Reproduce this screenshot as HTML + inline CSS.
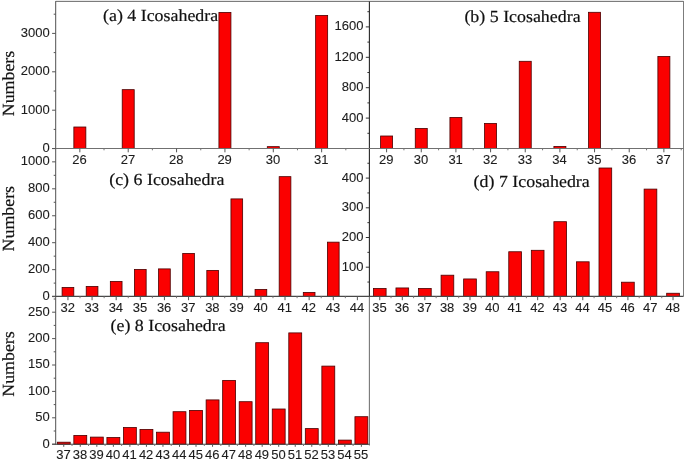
<!DOCTYPE html>
<html><head><meta charset="utf-8"><title>Icosahedra histograms</title>
<style>
html,body{margin:0;padding:0;background:#fff;}
svg{display:block}
.s{font-family:"Liberation Sans",Arial,sans-serif;fill:#1c1c1c;stroke:#1c1c1c;stroke-width:0.1px;}
.t{font-family:"Liberation Serif","Times New Roman",serif;fill:#111;stroke:#111;stroke-width:0.2px;text-rendering:geometricPrecision;}
</style></head><body>
<svg width="685" height="461" viewBox="0 0 685 461">
<rect width="685" height="461" fill="#fff"/>
<rect x="73.85" y="127.00" width="12.00" height="21.50" fill="#fb0000" stroke="#4a0000" stroke-width="0.8"/>
<rect x="122.21" y="89.65" width="12.00" height="58.85" fill="#fb0000" stroke="#4a0000" stroke-width="0.8"/>
<rect x="218.93" y="12.40" width="12.00" height="136.10" fill="#fb0000" stroke="#4a0000" stroke-width="0.8"/>
<rect x="267.29" y="146.65" width="12.00" height="1.85" fill="#fb0000" stroke="#4a0000" stroke-width="0.8"/>
<rect x="315.65" y="15.40" width="12.00" height="133.10" fill="#fb0000" stroke="#4a0000" stroke-width="0.8"/>
<rect x="380.60" y="136.00" width="12.00" height="12.50" fill="#fb0000" stroke="#4a0000" stroke-width="0.8"/>
<rect x="415.26" y="128.40" width="12.00" height="20.10" fill="#fb0000" stroke="#4a0000" stroke-width="0.8"/>
<rect x="449.92" y="117.40" width="12.00" height="31.10" fill="#fb0000" stroke="#4a0000" stroke-width="0.8"/>
<rect x="484.58" y="123.40" width="12.00" height="25.10" fill="#fb0000" stroke="#4a0000" stroke-width="0.8"/>
<rect x="519.24" y="61.30" width="12.00" height="87.20" fill="#fb0000" stroke="#4a0000" stroke-width="0.8"/>
<rect x="553.90" y="146.40" width="12.00" height="2.10" fill="#fb0000" stroke="#4a0000" stroke-width="0.8"/>
<rect x="588.56" y="12.30" width="12.00" height="136.20" fill="#fb0000" stroke="#4a0000" stroke-width="0.8"/>
<rect x="657.88" y="56.40" width="12.00" height="92.10" fill="#fb0000" stroke="#4a0000" stroke-width="0.8"/>
<rect x="62.10" y="287.40" width="11.70" height="9.00" fill="#fb0000" stroke="#4a0000" stroke-width="0.8"/>
<rect x="86.22" y="286.40" width="11.70" height="10.00" fill="#fb0000" stroke="#4a0000" stroke-width="0.8"/>
<rect x="110.34" y="281.40" width="11.70" height="15.00" fill="#fb0000" stroke="#4a0000" stroke-width="0.8"/>
<rect x="134.46" y="269.40" width="11.70" height="27.00" fill="#fb0000" stroke="#4a0000" stroke-width="0.8"/>
<rect x="158.58" y="268.90" width="11.70" height="27.50" fill="#fb0000" stroke="#4a0000" stroke-width="0.8"/>
<rect x="182.70" y="253.40" width="11.70" height="43.00" fill="#fb0000" stroke="#4a0000" stroke-width="0.8"/>
<rect x="206.82" y="270.40" width="11.70" height="26.00" fill="#fb0000" stroke="#4a0000" stroke-width="0.8"/>
<rect x="230.94" y="198.90" width="11.70" height="97.50" fill="#fb0000" stroke="#4a0000" stroke-width="0.8"/>
<rect x="255.06" y="289.40" width="11.70" height="7.00" fill="#fb0000" stroke="#4a0000" stroke-width="0.8"/>
<rect x="279.18" y="176.65" width="11.70" height="119.75" fill="#fb0000" stroke="#4a0000" stroke-width="0.8"/>
<rect x="303.30" y="292.40" width="11.70" height="4.00" fill="#fb0000" stroke="#4a0000" stroke-width="0.8"/>
<rect x="327.42" y="242.15" width="11.70" height="54.25" fill="#fb0000" stroke="#4a0000" stroke-width="0.8"/>
<rect x="373.40" y="288.45" width="12.70" height="7.95" fill="#fb0000" stroke="#4a0000" stroke-width="0.8"/>
<rect x="395.96" y="287.95" width="12.70" height="8.45" fill="#fb0000" stroke="#4a0000" stroke-width="0.8"/>
<rect x="418.52" y="288.45" width="12.70" height="7.95" fill="#fb0000" stroke="#4a0000" stroke-width="0.8"/>
<rect x="441.08" y="275.20" width="12.70" height="21.20" fill="#fb0000" stroke="#4a0000" stroke-width="0.8"/>
<rect x="463.64" y="278.95" width="12.70" height="17.45" fill="#fb0000" stroke="#4a0000" stroke-width="0.8"/>
<rect x="486.20" y="271.75" width="12.70" height="24.65" fill="#fb0000" stroke="#4a0000" stroke-width="0.8"/>
<rect x="508.76" y="251.75" width="12.70" height="44.65" fill="#fb0000" stroke="#4a0000" stroke-width="0.8"/>
<rect x="531.32" y="250.30" width="12.70" height="46.10" fill="#fb0000" stroke="#4a0000" stroke-width="0.8"/>
<rect x="553.88" y="221.70" width="12.70" height="74.70" fill="#fb0000" stroke="#4a0000" stroke-width="0.8"/>
<rect x="576.44" y="261.80" width="12.70" height="34.60" fill="#fb0000" stroke="#4a0000" stroke-width="0.8"/>
<rect x="599.00" y="168.00" width="12.70" height="128.40" fill="#fb0000" stroke="#4a0000" stroke-width="0.8"/>
<rect x="621.56" y="282.20" width="12.70" height="14.20" fill="#fb0000" stroke="#4a0000" stroke-width="0.8"/>
<rect x="644.12" y="189.10" width="12.70" height="107.30" fill="#fb0000" stroke="#4a0000" stroke-width="0.8"/>
<rect x="666.68" y="293.25" width="12.70" height="3.15" fill="#fb0000" stroke="#4a0000" stroke-width="0.8"/>
<rect x="57.30" y="442.20" width="12.90" height="2.00" fill="#fb0000" stroke="#4a0000" stroke-width="0.8"/>
<rect x="73.84" y="435.40" width="12.90" height="8.80" fill="#fb0000" stroke="#4a0000" stroke-width="0.8"/>
<rect x="90.37" y="437.10" width="12.90" height="7.10" fill="#fb0000" stroke="#4a0000" stroke-width="0.8"/>
<rect x="106.91" y="437.50" width="12.90" height="6.70" fill="#fb0000" stroke="#4a0000" stroke-width="0.8"/>
<rect x="123.44" y="427.50" width="12.90" height="16.70" fill="#fb0000" stroke="#4a0000" stroke-width="0.8"/>
<rect x="139.98" y="429.40" width="12.90" height="14.80" fill="#fb0000" stroke="#4a0000" stroke-width="0.8"/>
<rect x="156.51" y="432.20" width="12.90" height="12.00" fill="#fb0000" stroke="#4a0000" stroke-width="0.8"/>
<rect x="173.05" y="411.70" width="12.90" height="32.50" fill="#fb0000" stroke="#4a0000" stroke-width="0.8"/>
<rect x="189.58" y="410.40" width="12.90" height="33.80" fill="#fb0000" stroke="#4a0000" stroke-width="0.8"/>
<rect x="206.12" y="399.90" width="12.90" height="44.30" fill="#fb0000" stroke="#4a0000" stroke-width="0.8"/>
<rect x="222.65" y="380.40" width="12.90" height="63.80" fill="#fb0000" stroke="#4a0000" stroke-width="0.8"/>
<rect x="239.19" y="401.70" width="12.90" height="42.50" fill="#fb0000" stroke="#4a0000" stroke-width="0.8"/>
<rect x="255.72" y="342.70" width="12.90" height="101.50" fill="#fb0000" stroke="#4a0000" stroke-width="0.8"/>
<rect x="272.25" y="409.00" width="12.90" height="35.20" fill="#fb0000" stroke="#4a0000" stroke-width="0.8"/>
<rect x="288.79" y="332.90" width="12.90" height="111.30" fill="#fb0000" stroke="#4a0000" stroke-width="0.8"/>
<rect x="305.32" y="428.60" width="12.90" height="15.60" fill="#fb0000" stroke="#4a0000" stroke-width="0.8"/>
<rect x="321.86" y="366.10" width="12.90" height="78.10" fill="#fb0000" stroke="#4a0000" stroke-width="0.8"/>
<rect x="338.39" y="440.10" width="12.90" height="4.10" fill="#fb0000" stroke="#4a0000" stroke-width="0.8"/>
<rect x="354.93" y="416.70" width="12.90" height="27.50" fill="#fb0000" stroke="#4a0000" stroke-width="0.8"/>
<rect x="55.70" y="0" width="627.80" height="1" fill="#e8e8e8"/>
<line x1="55.20" y1="1.50" x2="684.00" y2="1.50" stroke="#7c7c7c" stroke-width="1.1"/>
<line x1="683.50" y1="1.50" x2="683.50" y2="296.40" stroke="#7c7c7c" stroke-width="1.0"/>
<line x1="55.70" y1="1.50" x2="55.70" y2="444.70" stroke="#505050" stroke-width="1.0"/>
<line x1="369.40" y1="296.40" x2="369.40" y2="445.40" stroke="#767676" stroke-width="1.1"/>
<line x1="369.40" y1="1.50" x2="369.40" y2="296.90" stroke="#262626" stroke-width="1.1"/>
<line x1="52.10" y1="148.50" x2="683.50" y2="148.50" stroke="#707070" stroke-width="1.1"/>
<line x1="52.10" y1="296.40" x2="683.50" y2="296.40" stroke="#484848" stroke-width="1.1"/>
<line x1="52.10" y1="444.20" x2="369.40" y2="444.20" stroke="#404040" stroke-width="1.1"/>
<line x1="52.10" y1="148.60" x2="55.70" y2="148.60" stroke="#555" stroke-width="1.0"/>
<line x1="52.10" y1="110.20" x2="55.70" y2="110.20" stroke="#555" stroke-width="1.0"/>
<line x1="52.10" y1="71.80" x2="55.70" y2="71.80" stroke="#555" stroke-width="1.0"/>
<line x1="52.10" y1="33.40" x2="55.70" y2="33.40" stroke="#555" stroke-width="1.0"/>
<line x1="53.70" y1="129.40" x2="55.70" y2="129.40" stroke="#555" stroke-width="1.0"/>
<line x1="53.70" y1="91.00" x2="55.70" y2="91.00" stroke="#555" stroke-width="1.0"/>
<line x1="53.70" y1="52.60" x2="55.70" y2="52.60" stroke="#555" stroke-width="1.0"/>
<line x1="53.70" y1="14.20" x2="55.70" y2="14.20" stroke="#555" stroke-width="1.0"/>
<text class="s" x="49.70" y="152.00" text-anchor="end" font-size="13">0</text>
<text class="s" x="49.70" y="113.60" text-anchor="end" font-size="13">1000</text>
<text class="s" x="49.70" y="75.20" text-anchor="end" font-size="13">2000</text>
<text class="s" x="49.70" y="36.80" text-anchor="end" font-size="13">3000</text>
<line x1="365.80" y1="118.10" x2="369.40" y2="118.10" stroke="#333" stroke-width="1.0"/>
<line x1="365.80" y1="87.70" x2="369.40" y2="87.70" stroke="#333" stroke-width="1.0"/>
<line x1="365.80" y1="57.30" x2="369.40" y2="57.30" stroke="#333" stroke-width="1.0"/>
<line x1="365.80" y1="26.90" x2="369.40" y2="26.90" stroke="#333" stroke-width="1.0"/>
<line x1="367.40" y1="133.30" x2="369.40" y2="133.30" stroke="#333" stroke-width="1.0"/>
<line x1="367.40" y1="102.90" x2="369.40" y2="102.90" stroke="#333" stroke-width="1.0"/>
<line x1="367.40" y1="72.50" x2="369.40" y2="72.50" stroke="#333" stroke-width="1.0"/>
<line x1="367.40" y1="42.10" x2="369.40" y2="42.10" stroke="#333" stroke-width="1.0"/>
<line x1="367.40" y1="11.70" x2="369.40" y2="11.70" stroke="#333" stroke-width="1.0"/>
<text class="s" x="363.40" y="121.50" text-anchor="end" font-size="13">400</text>
<text class="s" x="363.40" y="91.10" text-anchor="end" font-size="13">800</text>
<text class="s" x="363.40" y="60.70" text-anchor="end" font-size="13">1200</text>
<text class="s" x="363.40" y="30.30" text-anchor="end" font-size="13">1600</text>
<line x1="52.10" y1="296.60" x2="55.70" y2="296.60" stroke="#555" stroke-width="1.0"/>
<line x1="52.10" y1="269.65" x2="55.70" y2="269.65" stroke="#555" stroke-width="1.0"/>
<line x1="52.10" y1="242.70" x2="55.70" y2="242.70" stroke="#555" stroke-width="1.0"/>
<line x1="52.10" y1="215.75" x2="55.70" y2="215.75" stroke="#555" stroke-width="1.0"/>
<line x1="52.10" y1="188.80" x2="55.70" y2="188.80" stroke="#555" stroke-width="1.0"/>
<line x1="52.10" y1="161.85" x2="55.70" y2="161.85" stroke="#555" stroke-width="1.0"/>
<line x1="53.70" y1="283.12" x2="55.70" y2="283.12" stroke="#555" stroke-width="1.0"/>
<line x1="53.70" y1="256.17" x2="55.70" y2="256.17" stroke="#555" stroke-width="1.0"/>
<line x1="53.70" y1="229.22" x2="55.70" y2="229.22" stroke="#555" stroke-width="1.0"/>
<line x1="53.70" y1="202.27" x2="55.70" y2="202.27" stroke="#555" stroke-width="1.0"/>
<line x1="53.70" y1="175.32" x2="55.70" y2="175.32" stroke="#555" stroke-width="1.0"/>
<text class="s" x="49.70" y="300.00" text-anchor="end" font-size="13">0</text>
<text class="s" x="49.70" y="273.05" text-anchor="end" font-size="13">200</text>
<text class="s" x="49.70" y="246.10" text-anchor="end" font-size="13">400</text>
<text class="s" x="49.70" y="219.15" text-anchor="end" font-size="13">600</text>
<text class="s" x="49.70" y="192.20" text-anchor="end" font-size="13">800</text>
<text class="s" x="49.70" y="165.25" text-anchor="end" font-size="13">1000</text>
<line x1="365.80" y1="267.20" x2="369.40" y2="267.20" stroke="#333" stroke-width="1.0"/>
<line x1="365.80" y1="237.50" x2="369.40" y2="237.50" stroke="#333" stroke-width="1.0"/>
<line x1="365.80" y1="207.80" x2="369.40" y2="207.80" stroke="#333" stroke-width="1.0"/>
<line x1="365.80" y1="178.10" x2="369.40" y2="178.10" stroke="#333" stroke-width="1.0"/>
<line x1="367.40" y1="282.05" x2="369.40" y2="282.05" stroke="#333" stroke-width="1.0"/>
<line x1="367.40" y1="252.35" x2="369.40" y2="252.35" stroke="#333" stroke-width="1.0"/>
<line x1="367.40" y1="222.65" x2="369.40" y2="222.65" stroke="#333" stroke-width="1.0"/>
<line x1="367.40" y1="192.95" x2="369.40" y2="192.95" stroke="#333" stroke-width="1.0"/>
<line x1="367.40" y1="163.25" x2="369.40" y2="163.25" stroke="#333" stroke-width="1.0"/>
<text class="s" x="363.40" y="270.60" text-anchor="end" font-size="13">100</text>
<text class="s" x="363.40" y="240.90" text-anchor="end" font-size="13">200</text>
<text class="s" x="363.40" y="211.20" text-anchor="end" font-size="13">300</text>
<text class="s" x="363.40" y="181.50" text-anchor="end" font-size="13">400</text>
<line x1="52.10" y1="444.20" x2="55.70" y2="444.20" stroke="#555" stroke-width="1.0"/>
<line x1="52.10" y1="417.80" x2="55.70" y2="417.80" stroke="#555" stroke-width="1.0"/>
<line x1="52.10" y1="391.40" x2="55.70" y2="391.40" stroke="#555" stroke-width="1.0"/>
<line x1="52.10" y1="365.00" x2="55.70" y2="365.00" stroke="#555" stroke-width="1.0"/>
<line x1="52.10" y1="338.60" x2="55.70" y2="338.60" stroke="#555" stroke-width="1.0"/>
<line x1="52.10" y1="312.20" x2="55.70" y2="312.20" stroke="#555" stroke-width="1.0"/>
<line x1="53.70" y1="431.00" x2="55.70" y2="431.00" stroke="#555" stroke-width="1.0"/>
<line x1="53.70" y1="404.60" x2="55.70" y2="404.60" stroke="#555" stroke-width="1.0"/>
<line x1="53.70" y1="378.20" x2="55.70" y2="378.20" stroke="#555" stroke-width="1.0"/>
<line x1="53.70" y1="351.80" x2="55.70" y2="351.80" stroke="#555" stroke-width="1.0"/>
<line x1="53.70" y1="325.40" x2="55.70" y2="325.40" stroke="#555" stroke-width="1.0"/>
<line x1="53.70" y1="299.00" x2="55.70" y2="299.00" stroke="#555" stroke-width="1.0"/>
<text class="s" x="49.70" y="447.60" text-anchor="end" font-size="13">0</text>
<text class="s" x="49.70" y="421.20" text-anchor="end" font-size="13">50</text>
<text class="s" x="49.70" y="394.80" text-anchor="end" font-size="13">100</text>
<text class="s" x="49.70" y="368.40" text-anchor="end" font-size="13">150</text>
<text class="s" x="49.70" y="342.00" text-anchor="end" font-size="13">200</text>
<text class="s" x="49.70" y="315.60" text-anchor="end" font-size="13">250</text>
<line x1="79.85" y1="148.50" x2="79.85" y2="152.30" stroke="#555" stroke-width="1"/>
<text class="s" x="79.55" y="164.00" text-anchor="middle" font-size="13">26</text>
<line x1="104.03" y1="148.50" x2="104.03" y2="150.30" stroke="#777" stroke-width="1"/>
<line x1="128.21" y1="148.50" x2="128.21" y2="152.30" stroke="#555" stroke-width="1"/>
<text class="s" x="127.91" y="164.00" text-anchor="middle" font-size="13">27</text>
<line x1="152.39" y1="148.50" x2="152.39" y2="150.30" stroke="#777" stroke-width="1"/>
<line x1="176.57" y1="148.50" x2="176.57" y2="152.30" stroke="#555" stroke-width="1"/>
<text class="s" x="176.27" y="164.00" text-anchor="middle" font-size="13">28</text>
<line x1="200.75" y1="148.50" x2="200.75" y2="150.30" stroke="#777" stroke-width="1"/>
<line x1="224.93" y1="148.50" x2="224.93" y2="152.30" stroke="#555" stroke-width="1"/>
<text class="s" x="224.63" y="164.00" text-anchor="middle" font-size="13">29</text>
<line x1="249.11" y1="148.50" x2="249.11" y2="150.30" stroke="#777" stroke-width="1"/>
<line x1="273.29" y1="148.50" x2="273.29" y2="152.30" stroke="#555" stroke-width="1"/>
<text class="s" x="272.99" y="164.00" text-anchor="middle" font-size="13">30</text>
<line x1="297.47" y1="148.50" x2="297.47" y2="150.30" stroke="#777" stroke-width="1"/>
<line x1="321.65" y1="148.50" x2="321.65" y2="152.30" stroke="#555" stroke-width="1"/>
<text class="s" x="321.35" y="164.00" text-anchor="middle" font-size="13">31</text>
<line x1="345.83" y1="148.50" x2="345.83" y2="150.30" stroke="#777" stroke-width="1"/>
<line x1="386.60" y1="148.50" x2="386.60" y2="152.30" stroke="#555" stroke-width="1"/>
<text class="s" x="386.30" y="164.00" text-anchor="middle" font-size="13">29</text>
<line x1="403.93" y1="148.50" x2="403.93" y2="150.30" stroke="#777" stroke-width="1"/>
<line x1="421.26" y1="148.50" x2="421.26" y2="152.30" stroke="#555" stroke-width="1"/>
<text class="s" x="420.96" y="164.00" text-anchor="middle" font-size="13">30</text>
<line x1="438.59" y1="148.50" x2="438.59" y2="150.30" stroke="#777" stroke-width="1"/>
<line x1="455.92" y1="148.50" x2="455.92" y2="152.30" stroke="#555" stroke-width="1"/>
<text class="s" x="455.62" y="164.00" text-anchor="middle" font-size="13">31</text>
<line x1="473.25" y1="148.50" x2="473.25" y2="150.30" stroke="#777" stroke-width="1"/>
<line x1="490.58" y1="148.50" x2="490.58" y2="152.30" stroke="#555" stroke-width="1"/>
<text class="s" x="490.28" y="164.00" text-anchor="middle" font-size="13">32</text>
<line x1="507.91" y1="148.50" x2="507.91" y2="150.30" stroke="#777" stroke-width="1"/>
<line x1="525.24" y1="148.50" x2="525.24" y2="152.30" stroke="#555" stroke-width="1"/>
<text class="s" x="524.94" y="164.00" text-anchor="middle" font-size="13">33</text>
<line x1="542.57" y1="148.50" x2="542.57" y2="150.30" stroke="#777" stroke-width="1"/>
<line x1="559.90" y1="148.50" x2="559.90" y2="152.30" stroke="#555" stroke-width="1"/>
<text class="s" x="559.60" y="164.00" text-anchor="middle" font-size="13">34</text>
<line x1="577.23" y1="148.50" x2="577.23" y2="150.30" stroke="#777" stroke-width="1"/>
<line x1="594.56" y1="148.50" x2="594.56" y2="152.30" stroke="#555" stroke-width="1"/>
<text class="s" x="594.26" y="164.00" text-anchor="middle" font-size="13">35</text>
<line x1="611.89" y1="148.50" x2="611.89" y2="150.30" stroke="#777" stroke-width="1"/>
<line x1="629.22" y1="148.50" x2="629.22" y2="152.30" stroke="#555" stroke-width="1"/>
<text class="s" x="628.92" y="164.00" text-anchor="middle" font-size="13">36</text>
<line x1="646.55" y1="148.50" x2="646.55" y2="150.30" stroke="#777" stroke-width="1"/>
<line x1="663.88" y1="148.50" x2="663.88" y2="152.30" stroke="#555" stroke-width="1"/>
<text class="s" x="663.58" y="164.00" text-anchor="middle" font-size="13">37</text>
<line x1="681.21" y1="148.50" x2="681.21" y2="150.30" stroke="#777" stroke-width="1"/>
<line x1="67.95" y1="296.40" x2="67.95" y2="300.20" stroke="#555" stroke-width="1"/>
<text class="s" x="67.65" y="311.60" text-anchor="middle" font-size="13">32</text>
<line x1="80.01" y1="296.40" x2="80.01" y2="298.20" stroke="#777" stroke-width="1"/>
<line x1="92.07" y1="296.40" x2="92.07" y2="300.20" stroke="#555" stroke-width="1"/>
<text class="s" x="91.77" y="311.60" text-anchor="middle" font-size="13">33</text>
<line x1="104.13" y1="296.40" x2="104.13" y2="298.20" stroke="#777" stroke-width="1"/>
<line x1="116.19" y1="296.40" x2="116.19" y2="300.20" stroke="#555" stroke-width="1"/>
<text class="s" x="115.89" y="311.60" text-anchor="middle" font-size="13">34</text>
<line x1="128.25" y1="296.40" x2="128.25" y2="298.20" stroke="#777" stroke-width="1"/>
<line x1="140.31" y1="296.40" x2="140.31" y2="300.20" stroke="#555" stroke-width="1"/>
<text class="s" x="140.01" y="311.60" text-anchor="middle" font-size="13">35</text>
<line x1="152.37" y1="296.40" x2="152.37" y2="298.20" stroke="#777" stroke-width="1"/>
<line x1="164.43" y1="296.40" x2="164.43" y2="300.20" stroke="#555" stroke-width="1"/>
<text class="s" x="164.13" y="311.60" text-anchor="middle" font-size="13">36</text>
<line x1="176.49" y1="296.40" x2="176.49" y2="298.20" stroke="#777" stroke-width="1"/>
<line x1="188.55" y1="296.40" x2="188.55" y2="300.20" stroke="#555" stroke-width="1"/>
<text class="s" x="188.25" y="311.60" text-anchor="middle" font-size="13">37</text>
<line x1="200.61" y1="296.40" x2="200.61" y2="298.20" stroke="#777" stroke-width="1"/>
<line x1="212.67" y1="296.40" x2="212.67" y2="300.20" stroke="#555" stroke-width="1"/>
<text class="s" x="212.37" y="311.60" text-anchor="middle" font-size="13">38</text>
<line x1="224.73" y1="296.40" x2="224.73" y2="298.20" stroke="#777" stroke-width="1"/>
<line x1="236.79" y1="296.40" x2="236.79" y2="300.20" stroke="#555" stroke-width="1"/>
<text class="s" x="236.49" y="311.60" text-anchor="middle" font-size="13">39</text>
<line x1="248.85" y1="296.40" x2="248.85" y2="298.20" stroke="#777" stroke-width="1"/>
<line x1="260.91" y1="296.40" x2="260.91" y2="300.20" stroke="#555" stroke-width="1"/>
<text class="s" x="260.61" y="311.60" text-anchor="middle" font-size="13">40</text>
<line x1="272.97" y1="296.40" x2="272.97" y2="298.20" stroke="#777" stroke-width="1"/>
<line x1="285.03" y1="296.40" x2="285.03" y2="300.20" stroke="#555" stroke-width="1"/>
<text class="s" x="284.73" y="311.60" text-anchor="middle" font-size="13">41</text>
<line x1="297.09" y1="296.40" x2="297.09" y2="298.20" stroke="#777" stroke-width="1"/>
<line x1="309.15" y1="296.40" x2="309.15" y2="300.20" stroke="#555" stroke-width="1"/>
<text class="s" x="308.85" y="311.60" text-anchor="middle" font-size="13">42</text>
<line x1="321.21" y1="296.40" x2="321.21" y2="298.20" stroke="#777" stroke-width="1"/>
<line x1="333.27" y1="296.40" x2="333.27" y2="300.20" stroke="#555" stroke-width="1"/>
<text class="s" x="332.97" y="311.60" text-anchor="middle" font-size="13">43</text>
<line x1="345.33" y1="296.40" x2="345.33" y2="298.20" stroke="#777" stroke-width="1"/>
<line x1="357.39" y1="296.40" x2="357.39" y2="300.20" stroke="#555" stroke-width="1"/>
<text class="s" x="357.09" y="311.60" text-anchor="middle" font-size="13">44</text>
<line x1="379.75" y1="296.40" x2="379.75" y2="300.20" stroke="#555" stroke-width="1"/>
<text class="s" x="379.45" y="311.60" text-anchor="middle" font-size="13">35</text>
<line x1="391.03" y1="296.40" x2="391.03" y2="298.20" stroke="#777" stroke-width="1"/>
<line x1="402.31" y1="296.40" x2="402.31" y2="300.20" stroke="#555" stroke-width="1"/>
<text class="s" x="402.01" y="311.60" text-anchor="middle" font-size="13">36</text>
<line x1="413.59" y1="296.40" x2="413.59" y2="298.20" stroke="#777" stroke-width="1"/>
<line x1="424.87" y1="296.40" x2="424.87" y2="300.20" stroke="#555" stroke-width="1"/>
<text class="s" x="424.57" y="311.60" text-anchor="middle" font-size="13">37</text>
<line x1="436.15" y1="296.40" x2="436.15" y2="298.20" stroke="#777" stroke-width="1"/>
<line x1="447.43" y1="296.40" x2="447.43" y2="300.20" stroke="#555" stroke-width="1"/>
<text class="s" x="447.13" y="311.60" text-anchor="middle" font-size="13">38</text>
<line x1="458.71" y1="296.40" x2="458.71" y2="298.20" stroke="#777" stroke-width="1"/>
<line x1="469.99" y1="296.40" x2="469.99" y2="300.20" stroke="#555" stroke-width="1"/>
<text class="s" x="469.69" y="311.60" text-anchor="middle" font-size="13">39</text>
<line x1="481.27" y1="296.40" x2="481.27" y2="298.20" stroke="#777" stroke-width="1"/>
<line x1="492.55" y1="296.40" x2="492.55" y2="300.20" stroke="#555" stroke-width="1"/>
<text class="s" x="492.25" y="311.60" text-anchor="middle" font-size="13">40</text>
<line x1="503.83" y1="296.40" x2="503.83" y2="298.20" stroke="#777" stroke-width="1"/>
<line x1="515.11" y1="296.40" x2="515.11" y2="300.20" stroke="#555" stroke-width="1"/>
<text class="s" x="514.81" y="311.60" text-anchor="middle" font-size="13">41</text>
<line x1="526.39" y1="296.40" x2="526.39" y2="298.20" stroke="#777" stroke-width="1"/>
<line x1="537.67" y1="296.40" x2="537.67" y2="300.20" stroke="#555" stroke-width="1"/>
<text class="s" x="537.37" y="311.60" text-anchor="middle" font-size="13">42</text>
<line x1="548.95" y1="296.40" x2="548.95" y2="298.20" stroke="#777" stroke-width="1"/>
<line x1="560.23" y1="296.40" x2="560.23" y2="300.20" stroke="#555" stroke-width="1"/>
<text class="s" x="559.93" y="311.60" text-anchor="middle" font-size="13">43</text>
<line x1="571.51" y1="296.40" x2="571.51" y2="298.20" stroke="#777" stroke-width="1"/>
<line x1="582.79" y1="296.40" x2="582.79" y2="300.20" stroke="#555" stroke-width="1"/>
<text class="s" x="582.49" y="311.60" text-anchor="middle" font-size="13">44</text>
<line x1="594.07" y1="296.40" x2="594.07" y2="298.20" stroke="#777" stroke-width="1"/>
<line x1="605.35" y1="296.40" x2="605.35" y2="300.20" stroke="#555" stroke-width="1"/>
<text class="s" x="605.05" y="311.60" text-anchor="middle" font-size="13">45</text>
<line x1="616.63" y1="296.40" x2="616.63" y2="298.20" stroke="#777" stroke-width="1"/>
<line x1="627.91" y1="296.40" x2="627.91" y2="300.20" stroke="#555" stroke-width="1"/>
<text class="s" x="627.61" y="311.60" text-anchor="middle" font-size="13">46</text>
<line x1="639.19" y1="296.40" x2="639.19" y2="298.20" stroke="#777" stroke-width="1"/>
<line x1="650.47" y1="296.40" x2="650.47" y2="300.20" stroke="#555" stroke-width="1"/>
<text class="s" x="650.17" y="311.60" text-anchor="middle" font-size="13">47</text>
<line x1="661.75" y1="296.40" x2="661.75" y2="298.20" stroke="#777" stroke-width="1"/>
<line x1="673.03" y1="296.40" x2="673.03" y2="300.20" stroke="#555" stroke-width="1"/>
<text class="s" x="672.73" y="311.60" text-anchor="middle" font-size="13">48</text>
<line x1="63.75" y1="444.20" x2="63.75" y2="446.80" stroke="#555" stroke-width="1"/>
<text class="s" x="63.45" y="459.00" text-anchor="middle" font-size="13">37</text>
<line x1="72.02" y1="444.20" x2="72.02" y2="446.00" stroke="#777" stroke-width="1"/>
<line x1="80.28" y1="444.20" x2="80.28" y2="446.80" stroke="#555" stroke-width="1"/>
<text class="s" x="79.98" y="459.00" text-anchor="middle" font-size="13">38</text>
<line x1="88.55" y1="444.20" x2="88.55" y2="446.00" stroke="#777" stroke-width="1"/>
<line x1="96.82" y1="444.20" x2="96.82" y2="446.80" stroke="#555" stroke-width="1"/>
<text class="s" x="96.52" y="459.00" text-anchor="middle" font-size="13">39</text>
<line x1="105.09" y1="444.20" x2="105.09" y2="446.00" stroke="#777" stroke-width="1"/>
<line x1="113.36" y1="444.20" x2="113.36" y2="446.80" stroke="#555" stroke-width="1"/>
<text class="s" x="113.06" y="459.00" text-anchor="middle" font-size="13">40</text>
<line x1="121.62" y1="444.20" x2="121.62" y2="446.00" stroke="#777" stroke-width="1"/>
<line x1="129.89" y1="444.20" x2="129.89" y2="446.80" stroke="#555" stroke-width="1"/>
<text class="s" x="129.59" y="459.00" text-anchor="middle" font-size="13">41</text>
<line x1="138.16" y1="444.20" x2="138.16" y2="446.00" stroke="#777" stroke-width="1"/>
<line x1="146.43" y1="444.20" x2="146.43" y2="446.80" stroke="#555" stroke-width="1"/>
<text class="s" x="146.12" y="459.00" text-anchor="middle" font-size="13">42</text>
<line x1="154.69" y1="444.20" x2="154.69" y2="446.00" stroke="#777" stroke-width="1"/>
<line x1="162.96" y1="444.20" x2="162.96" y2="446.80" stroke="#555" stroke-width="1"/>
<text class="s" x="162.66" y="459.00" text-anchor="middle" font-size="13">43</text>
<line x1="171.23" y1="444.20" x2="171.23" y2="446.00" stroke="#777" stroke-width="1"/>
<line x1="179.50" y1="444.20" x2="179.50" y2="446.80" stroke="#555" stroke-width="1"/>
<text class="s" x="179.19" y="459.00" text-anchor="middle" font-size="13">44</text>
<line x1="187.76" y1="444.20" x2="187.76" y2="446.00" stroke="#777" stroke-width="1"/>
<line x1="196.03" y1="444.20" x2="196.03" y2="446.80" stroke="#555" stroke-width="1"/>
<text class="s" x="195.73" y="459.00" text-anchor="middle" font-size="13">45</text>
<line x1="204.30" y1="444.20" x2="204.30" y2="446.00" stroke="#777" stroke-width="1"/>
<line x1="212.56" y1="444.20" x2="212.56" y2="446.80" stroke="#555" stroke-width="1"/>
<text class="s" x="212.26" y="459.00" text-anchor="middle" font-size="13">46</text>
<line x1="220.83" y1="444.20" x2="220.83" y2="446.00" stroke="#777" stroke-width="1"/>
<line x1="229.10" y1="444.20" x2="229.10" y2="446.80" stroke="#555" stroke-width="1"/>
<text class="s" x="228.80" y="459.00" text-anchor="middle" font-size="13">47</text>
<line x1="237.37" y1="444.20" x2="237.37" y2="446.00" stroke="#777" stroke-width="1"/>
<line x1="245.63" y1="444.20" x2="245.63" y2="446.80" stroke="#555" stroke-width="1"/>
<text class="s" x="245.33" y="459.00" text-anchor="middle" font-size="13">48</text>
<line x1="253.90" y1="444.20" x2="253.90" y2="446.00" stroke="#777" stroke-width="1"/>
<line x1="262.17" y1="444.20" x2="262.17" y2="446.80" stroke="#555" stroke-width="1"/>
<text class="s" x="261.87" y="459.00" text-anchor="middle" font-size="13">49</text>
<line x1="270.44" y1="444.20" x2="270.44" y2="446.00" stroke="#777" stroke-width="1"/>
<line x1="278.71" y1="444.20" x2="278.71" y2="446.80" stroke="#555" stroke-width="1"/>
<text class="s" x="278.41" y="459.00" text-anchor="middle" font-size="13">50</text>
<line x1="286.97" y1="444.20" x2="286.97" y2="446.00" stroke="#777" stroke-width="1"/>
<line x1="295.24" y1="444.20" x2="295.24" y2="446.80" stroke="#555" stroke-width="1"/>
<text class="s" x="294.94" y="459.00" text-anchor="middle" font-size="13">51</text>
<line x1="303.51" y1="444.20" x2="303.51" y2="446.00" stroke="#777" stroke-width="1"/>
<line x1="311.77" y1="444.20" x2="311.77" y2="446.80" stroke="#555" stroke-width="1"/>
<text class="s" x="311.47" y="459.00" text-anchor="middle" font-size="13">52</text>
<line x1="320.04" y1="444.20" x2="320.04" y2="446.00" stroke="#777" stroke-width="1"/>
<line x1="328.31" y1="444.20" x2="328.31" y2="446.80" stroke="#555" stroke-width="1"/>
<text class="s" x="328.01" y="459.00" text-anchor="middle" font-size="13">53</text>
<line x1="336.58" y1="444.20" x2="336.58" y2="446.00" stroke="#777" stroke-width="1"/>
<line x1="344.85" y1="444.20" x2="344.85" y2="446.80" stroke="#555" stroke-width="1"/>
<text class="s" x="344.55" y="459.00" text-anchor="middle" font-size="13">54</text>
<line x1="353.11" y1="444.20" x2="353.11" y2="446.00" stroke="#777" stroke-width="1"/>
<line x1="361.38" y1="444.20" x2="361.38" y2="446.80" stroke="#555" stroke-width="1"/>
<text class="s" x="361.08" y="459.00" text-anchor="middle" font-size="13">55</text>
<text class="t" transform="translate(103.00,21.30) scale(1.0518,1)" text-anchor="start" font-size="17.0">(a) 4 Icosahedra</text>
<text class="t" transform="translate(464.40,22.10) scale(1.0518,1)" text-anchor="start" font-size="17.0">(b) 5 Icosahedra</text>
<text class="t" transform="translate(109.20,185.30) scale(1.0518,1)" text-anchor="start" font-size="17.0">(c) 6 Icosahedra</text>
<text class="t" transform="translate(473.60,186.60) scale(1.0518,1)" text-anchor="start" font-size="17.0">(d) 7 Icosahedra</text>
<text class="t" transform="translate(110.50,331.10) scale(1.0518,1)" text-anchor="start" font-size="17.0">(e) 8 Icosahedra</text>
<text class="t" font-size="17.0" text-anchor="middle" transform="translate(14.0,83.5) rotate(-90) scale(1.0518,1)">Numbers</text>
<text class="t" font-size="17.0" text-anchor="middle" transform="translate(14.0,218.7) rotate(-90) scale(1.0518,1)">Numbers</text>
<text class="t" font-size="17.0" text-anchor="middle" transform="translate(14.0,364.0) rotate(-90) scale(1.0518,1)">Numbers</text>
</svg>
</body></html>
